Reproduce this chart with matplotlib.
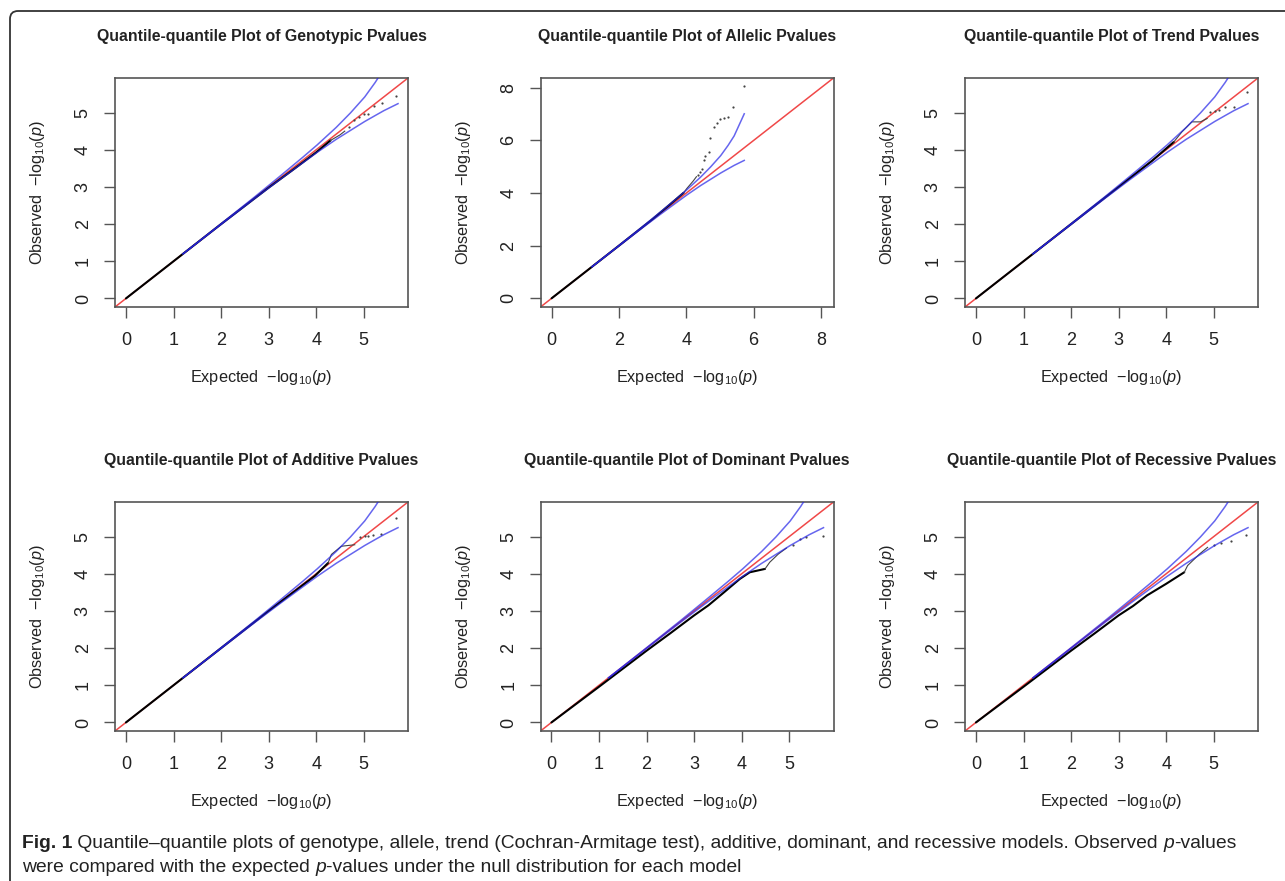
import matplotlib
matplotlib.use('Agg')
import matplotlib.pyplot as plt
from matplotlib.patches import FancyBboxPatch
from matplotlib.transforms import IdentityTransform

plt.rcParams['font.family'] = ['Liberation Sans', 'DejaVu Sans']
plt.rcParams['mathtext.fontset'] = 'custom'
plt.rcParams['mathtext.rm'] = 'Liberation Sans'
plt.rcParams['mathtext.it'] = 'Liberation Sans:italic'

W, H, DPI = 1285, 881, 100

TITLES = ['Genotypic', 'Allelic', 'Trend', 'Additive', 'Dominant', 'Recessive']

# 90% band for order statistics (same SNP count in every panel)
band_exp = [1.2, 2.0, 2.72, 3.24, 3.72, 4.02, 4.42, 4.72, 5.02, 5.24, 5.42, 5.72]
band_upper = [1.2, 2.01, 2.745, 3.29, 3.80, 4.13, 4.60, 4.99, 5.42, 5.81, 6.17, 7.01]
band_lower = [1.2, 1.99, 2.70, 3.20, 3.65, 3.93, 4.28, 4.52, 4.76, 4.92, 5.05, 5.24]

# observed vs expected -log10(p): dense part (thick line), sparser run (thin line), tail points
geno_line_x = [0.0, 1.0, 2.0, 3.0, 3.5, 4.0, 4.3]
geno_line_y = [0.0, 1.0, 2.0, 2.98, 3.45, 3.93, 4.25]
geno_thin_x = [4.3, 4.5, 4.6]
geno_thin_y = [4.25, 4.40, 4.50]
geno_pts_x = [4.70, 4.80, 4.91, 5.01, 5.08, 5.22, 5.39, 5.67]
geno_pts_y = [4.62, 4.80, 4.88, 4.95, 4.97, 5.18, 5.26, 5.45]

alle_line_x = [0.0, 1.0, 2.0, 3.0, 3.5, 3.92]
alle_line_y = [0.0, 1.0, 2.0, 3.01, 3.55, 4.01]
alle_thin_x = [3.92, 4.02, 4.10, 4.20, 4.30]
alle_thin_y = [4.01, 4.18, 4.30, 4.45, 4.62]
alle_pts_x = [4.35, 4.41, 4.46, 4.51, 4.56, 4.66, 4.71, 4.81, 4.91, 5.01, 5.13, 5.23, 5.40, 5.70]
alle_pts_y = [4.70, 4.80, 4.90, 5.27, 5.39, 5.56, 6.09, 6.50, 6.65, 6.80, 6.86, 6.90, 7.27, 8.05]

trend_line_x = [0.0, 1.0, 2.0, 3.0, 3.7, 4.16]
trend_line_y = [0.0, 1.0, 2.0, 3.0, 3.70, 4.21]
trend_thin_x = [4.16, 4.33, 4.54, 4.72, 4.86]
trend_thin_y = [4.21, 4.48, 4.75, 4.75, 4.84]
trend_pts_x = [4.93, 5.03, 5.10, 5.24, 5.42, 5.70]
trend_pts_y = [5.02, 5.05, 5.08, 5.14, 5.15, 5.54]

add_line_x = [0.0, 1.0, 2.0, 3.0, 3.97, 4.25]
add_line_y = [0.0, 1.0, 2.0, 3.0, 3.94, 4.29]
add_thin_x = [4.25, 4.32, 4.53, 4.81]
add_thin_y = [4.29, 4.52, 4.74, 4.78]
add_pts_x = [4.92, 5.02, 5.09, 5.20, 5.37, 5.67]
add_pts_y = [4.99, 5.01, 5.01, 5.03, 5.07, 5.50]

dom_line_x = [0.0, 1.0, 2.0, 2.5, 3.0, 3.3, 3.6, 3.96, 4.17, 4.49]
dom_line_y = [0.0, 0.96, 1.93, 2.40, 2.88, 3.15, 3.47, 3.86, 4.04, 4.13]
dom_thin_x = [4.49, 4.59, 4.77, 4.94]
dom_thin_y = [4.13, 4.31, 4.53, 4.69]
dom_pts_x = [5.08, 5.22, 5.36, 5.70]
dom_pts_y = [4.76, 4.94, 4.98, 5.01]

rec_line_x = [0.0, 1.0, 2.0, 2.5, 3.0, 3.3, 3.6, 4.0, 4.38]
rec_line_y = [0.0, 0.96, 1.93, 2.40, 2.88, 3.13, 3.42, 3.73, 4.04]
rec_thin_x = [4.38, 4.45, 4.70, 4.87]
rec_thin_y = [4.04, 4.22, 4.53, 4.71]
rec_pts_x = [5.01, 5.15, 5.36, 5.68]
rec_pts_y = [4.78, 4.83, 4.89, 5.03]

line_x = [geno_line_x, alle_line_x, trend_line_x, add_line_x, dom_line_x, rec_line_x]
line_y = [geno_line_y, alle_line_y, trend_line_y, add_line_y, dom_line_y, rec_line_y]
thin_x = [geno_thin_x, alle_thin_x, trend_thin_x, add_thin_x, dom_thin_x, rec_thin_x]
thin_y = [geno_thin_y, alle_thin_y, trend_thin_y, add_thin_y, dom_thin_y, rec_thin_y]
pts_x = [geno_pts_x, alle_pts_x, trend_pts_x, add_pts_x, dom_pts_x, rec_pts_x]
pts_y = [geno_pts_y, alle_pts_y, trend_pts_y, add_pts_y, dom_pts_y, rec_pts_y]

lims = [(-0.23, 5.93), (-0.33, 8.37), (-0.23, 5.93), (-0.23, 5.93), (-0.23, 5.93), (-0.23, 5.93)]
ticks = [range(6), range(0, 9, 2), range(6), range(6), range(6), range(6)]

BOX = '#555555'
TXT = '#222222'

fig = plt.figure(figsize=(W / DPI, H / DPI), dpi=DPI)
fig.patch.set_facecolor('white')

lefts = [115, 540.5, 965]
tops = [78, 502]
aw, ah = 293, 229

for k in range(6):
    r, c = divmod(k, 3)
    ax = fig.add_axes([lefts[c] / W, 1 - (tops[r] + ah) / H, aw / W, ah / H])
    lo, hi = lims[k]
    ax.set_xlim(lo, hi)
    ax.set_ylim(lo, hi)

    ax.axline((0, 0), slope=1, color='#f04848', lw=1.1, zorder=2)
    ax.plot(line_x[k], line_y[k], color='black', lw=1.5, zorder=3, solid_capstyle='round')
    ax.plot(thin_x[k], thin_y[k], color='#444444', lw=0.8, zorder=3)
    ax.plot(pts_x[k], pts_y[k], 'o', ms=1.6, color='#444444', mec='none', zorder=3)
    ax.plot(band_exp, band_upper, color='#2525e8', lw=1.1, alpha=0.7, zorder=4)
    ax.plot(band_exp, band_lower, color='#2525e8', lw=1.1, alpha=0.7, zorder=4)

    ax.set_xticks(list(ticks[k]))
    ax.set_yticks(list(ticks[k]))
    ax.tick_params(axis='both', direction='out', length=7.7, width=1.0, color=BOX,
                   labelsize=13, labelcolor=TXT)
    ax.tick_params(axis='x', pad=10)
    ax.tick_params(axis='y', pad=9, labelrotation=90)
    for lab in ax.get_yticklabels():
        lab.set_va('center')
    for sp in ax.spines.values():
        sp.set_color(BOX)
        sp.set_linewidth(1.2)

    ax.set_title('Quantile-quantile Plot of %s Pvalues' % TITLES[k], fontsize=11.4,
                 fontweight='bold', color=TXT, y=1.147, va='center')
    ax.set_xlabel('Expected  $-\\mathrm{log}_{10}(p)$', fontsize=11.7, color=TXT)
    ax.xaxis.set_label_coords(0.5, -0.31)
    ax.xaxis.label.set_va('center')
    ax.set_ylabel('Observed  $-\\mathrm{log}_{10}(p)$', fontsize=11.7, color=TXT)
    ax.yaxis.set_label_coords(-0.263, 0.5)
    ax.yaxis.label.set_va('center')

# frame around the figure panel
frame = FancyBboxPatch((10, -30), 1300, H - 11 + 30, boxstyle='round,pad=0,rounding_size=8',
                       transform=IdentityTransform(), fill=False, ec='#333333', lw=1.3)
fig.add_artist(frame)

# caption with mixed bold / italic runs
renderer = fig.canvas.get_renderer()


def put_runs(x_px, y_px, runs, size):
    for s, weight, style in runs:
        t = fig.text(x_px / W, 1 - y_px / H, s, fontsize=size, fontweight=weight,
                     fontstyle=style, color=TXT, va='center', ha='left')
        x_px += t.get_window_extent(renderer).width


put_runs(22, 843, [
    ('Fig. 1', 'bold', 'normal'),
    (' Quantile\u2013quantile plots of genotype, allele, trend (Cochran-Armitage test), additive, '
     'dominant, and recessive models. Observed ', 'normal', 'normal'),
    ('p', 'normal', 'italic'),
    ('-values', 'normal', 'normal'),
], 13.85)
put_runs(22, 867, [
    ('were compared with the expected ', 'normal', 'normal'),
    ('p', 'normal', 'italic'),
    ('-values under the null distribution for each model', 'normal', 'normal'),
], 13.85)

fig.savefig('out.png', dpi=DPI, facecolor='white')
